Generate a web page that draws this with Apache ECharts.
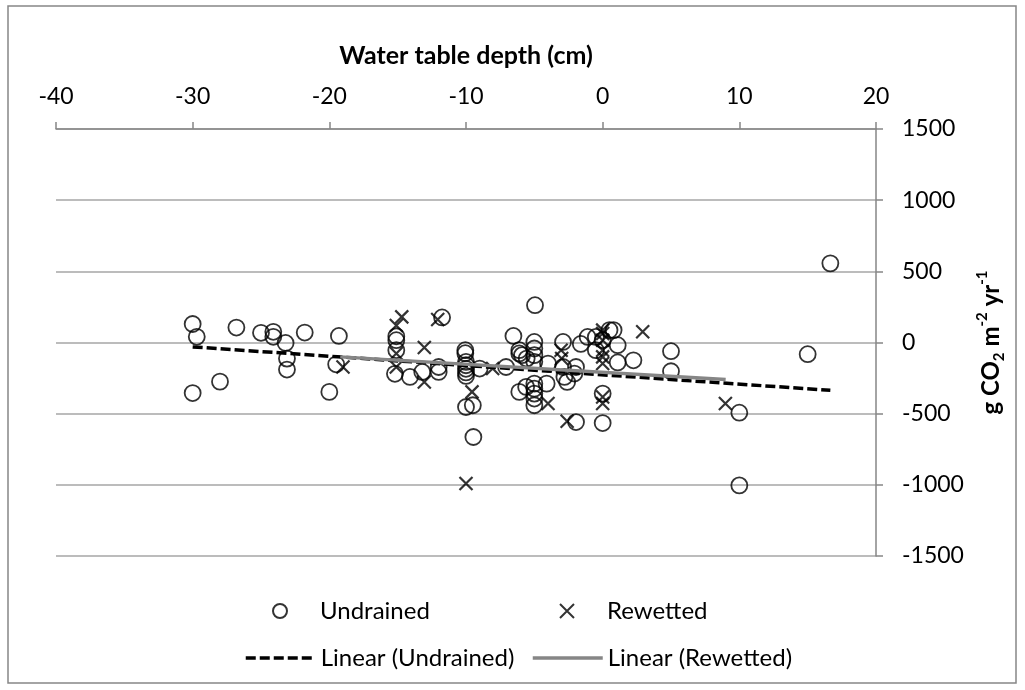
<!DOCTYPE html>
<html>
<head>
<meta charset="utf-8">
<script src="https://cdn.jsdelivr.net/npm/echarts@6/dist/echarts.min.js"></script>
<style>
html,body{margin:0;padding:0;background:#fff;}
#chart{width:1025px;height:690px;}
</style>
</head>
<body>
<div id="chart"></div>
<script>
// x: water table depth (cm), y: g CO2 m-2 yr-1
const undrained = [
  [-30,130],[-29.7,40],[-30,-355],[-28,-275],[-26.8,105],[-25,68],[-24.1,75],[-24.1,40],
  [-23.2,-3],[-23.1,-113],[-23.1,-190],[-21.8,70],[-20,-347],[-19.3,46],[-19.5,-153],
  [-15.1,44],[-15.1,16],[-15.1,-54],[-15.2,-220],[-14.1,-242],[-13.2,-207],[-11.75,176],
  [-12,-172],[-12,-207],
  [-10.05,-54],[-10.05,-75],[-10,-136],[-10,-160],[-10,-185],[-10,-210],[-10,-235],
  [-10,-453],[-9.5,-441],[-9.46,-664],[-9,-183],[-7.07,-172],
  [-6.53,46],[-6.1,-77],[-6.1,-54],[-5.9,-89],[-6.1,-347],[-5.6,-312],[-5.56,-113],
  [-5,4],[-5,-42],[-5,-89],[-5,-136],[-5,-289],[-5,-324],[-5,-359],[-5,-394],[-5,-441],[-4.95,262],
  [-4,-148],[-4.1,-289],[-2.9,4],[-2.9,-172],[-2.8,-242],[-2.6,-277],[-1.95,-559],[-1.95,-172],
  [-2.07,-218],[-1.6,-10],[-1.1,39],[-0.5,39],[-0.5,-54],[0,16],[0.5,87],[0.8,87],[1.1,-19],
  [1.1,-140],[2.25,-125],[0,-359],[0,-566],[5,-61],[5,-202],[10,-493],[10,-1004],[15,-82],[16.66,556]
];
const rewetted = [
  [-19,-172],[-14.7,180],[-15.1,120],[-15.1,-77],[-15.1,-172],[-13.05,-35],[-13.05,-277],
  [-12.07,162],[-9.56,-347],[-10,-990],[-8.05,-183],[-4,-429],[-3.04,-54],[-3,-113],
  [-2.6,-553],[0,87],[0,63],[0,16],[0,-54],[0,-101],[0,-148],[0,-383],[0,-429],[2.93,75],[8.98,-429]
];
const trendUndrained = [[-30,-31],[16.66,-336]];
const trendRewetted = [[-19.2,-101],[9,-260]];
const xTicks = {min:-40, max:20, interval:10};
const yTicks = {min:-1500, max:1500, interval:500};
const seriesNames = ['Undrained', 'Rewetted', 'Linear (Undrained)', 'Linear (Rewetted)'];

const FONT = 'Lato, "Open Sans", sans-serif';
const chart = echarts.init(document.getElementById('chart'));
const legendText = {fontFamily: FONT, fontSize: 24, color: '#000'};
function legendAt(name, left, top, extra) {
  return Object.assign({
    left: left, top: top, orient: 'horizontal', itemWidth: 70, itemHeight: 14, itemGap: 8,
    textStyle: legendText, data: [name]
  }, extra || {});
}
chart.setOption({
  animation: false,
  graphic: [{
    type: 'rect', shape: {x: 8, y: 6, width: 1008, height: 677},
    style: {fill: 'none', stroke: '#868686', lineWidth: 1.5}, silent: true, z: -10
  }],
  grid: {left: 56, right: 149, top: 129, bottom: 134, containLabel: false},
  xAxis: {
    type: 'value', position: 'top', min: xTicks.min, max: xTicks.max, interval: xTicks.interval,
    name: 'Water table depth (cm)', nameLocation: 'middle', nameGap: 61,
    nameTextStyle: {fontFamily: FONT, fontSize: 25, fontWeight: 'bold', color: '#000'},
    axisLine: {show: true, onZero: false, lineStyle: {color: '#868686', width: 1.5}},
    axisTick: {show: true, inside: false, length: 7, lineStyle: {color: '#868686', width: 1.5}},
    axisLabel: {fontFamily: FONT, fontSize: 23, color: '#000', margin: 21},
    splitLine: {show: false}
  },
  yAxis: {
    type: 'value', position: 'right', min: yTicks.min, max: yTicks.max, interval: yTicks.interval,
    name: '{b|g CO}{sub|2}{b| m}{sup|-2}{b| yr}{sup|-1}', nameLocation: 'middle', nameGap: 86, nameRotate: 90,
    nameTextStyle: {
      fontFamily: FONT, fontSize: 24, fontWeight: 'bold', color: '#000', lineHeight: 32,
      rich: {
        b: {fontFamily: FONT, fontSize: 24, fontWeight: 'bold', color: '#000', lineHeight: 32, verticalAlign: 'middle'},
        sub: {fontFamily: FONT, fontSize: 15, fontWeight: 'bold', color: '#000', verticalAlign: 'bottom', lineHeight: 16},
        sup: {fontFamily: FONT, fontSize: 15, fontWeight: 'bold', color: '#000', verticalAlign: 'top', lineHeight: 16}
      }
    },
    axisLine: {show: true, onZero: false, lineStyle: {color: '#868686', width: 1.5}},
    axisTick: {show: true, inside: false, length: 7, lineStyle: {color: '#868686', width: 1.5}},
    axisLabel: {fontFamily: FONT, fontSize: 23, color: '#000', margin: 26, formatter: v => String(v)},
    splitLine: {show: true, lineStyle: {color: '#a6a6a6', width: 1.5}}
  },
  legend: [
    legendAt(seriesNames[0], 267, 594),
    legendAt(seriesNames[1], 554, 594),
    legendAt({name: seriesNames[2], itemStyle: {opacity: 0}}, 239, 641,
             {lineStyle: {width: 3.5, type: [10, 4]}}),
    legendAt({name: seriesNames[3], itemStyle: {opacity: 0}}, 526, 641,
             {lineStyle: {width: 3.5}})
  ],
  series: [
    {name: seriesNames[0], type: 'scatter', data: undrained, symbol: 'circle', symbolSize: 16,
     itemStyle: {color: 'rgba(0,0,0,0)', borderColor: '#000', borderWidth: 1.8}, z: 3},
    {name: seriesNames[1], type: 'scatter', data: rewetted, symbol: 'path://M0,0L10,10M10,0L0,10', symbolSize: 13,
     itemStyle: {color: 'rgba(0,0,0,0)', borderColor: '#000', borderWidth: 2.2}, z: 4},
    {name: seriesNames[2], type: 'line', data: trendUndrained, symbol: 'none', symbolSize: 0, showSymbol: false,
     lineStyle: {color: '#000', width: 3.5, type: [10, 4]}, itemStyle: {color: '#000'}, z: 5},
    {name: seriesNames[3], type: 'line', data: trendRewetted, symbol: 'none', symbolSize: 0, showSymbol: false,
     lineStyle: {color: '#868686', width: 3.5, type: 'solid'}, itemStyle: {color: '#868686'}, z: 6}
  ]
});
</script>
</body>
</html>
